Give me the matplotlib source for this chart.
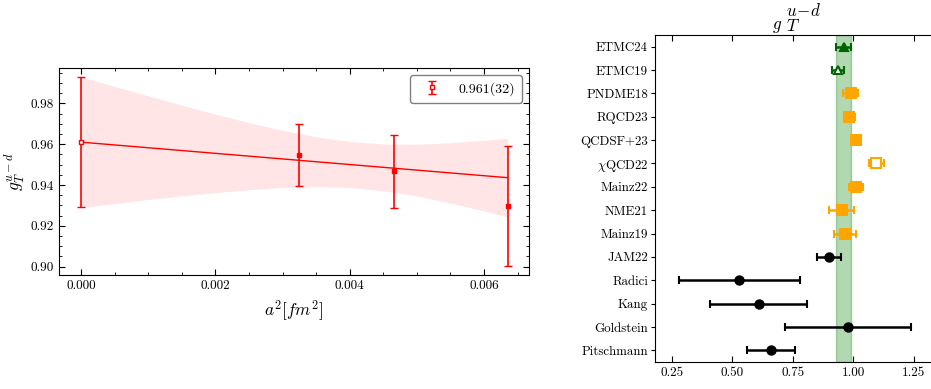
import matplotlib
matplotlib.use("Agg")
import matplotlib.pyplot as plt
from matplotlib.ticker import MultipleLocator, FormatStrFormatter

plt.rcParams['font.family'] = 'serif'
plt.rcParams['font.serif'] = ['cmr10']
plt.rcParams['mathtext.fontset'] = 'cm'
plt.rcParams['axes.formatter.use_mathtext'] = True

# extrapolacion al continuo
a2 = [0.00325, 0.00466, 0.00635]
gT = [0.9547, 0.9467, 0.9298]
gT_err = [0.0153, 0.0180, 0.0293]
gT_cont = 0.961
gT_cont_err = 0.032

# banda del ajuste
band_x = [0, 0.0005, 0.001, 0.0015, 0.002, 0.0025, 0.003, 0.0035,
          0.004, 0.0045, 0.005, 0.0055, 0.006, 0.00635]
band_lo = [0.929, 0.9309, 0.9329, 0.9347, 0.9363, 0.9377, 0.9388, 0.9392,
           0.9388, 0.9372, 0.9346, 0.9312, 0.9273, 0.9243]
band_hi = [0.993, 0.9883, 0.9837, 0.9791, 0.9747, 0.9706, 0.9668, 0.9636,
           0.9613, 0.9601, 0.9600, 0.9607, 0.9619, 0.9629]
fit_x = [0, 0.00635]
fit_y = [0.961, 0.9436]

# comparacion con otros resultados
names = ['ETMC24', 'ETMC19', 'PNDME18', 'RQCD23', 'QCDSF+23', r'$\chi$QCD22',
         'Mainz22', 'NME21', 'Mainz19', 'JAM22', 'Radici', 'Kang',
         'Goldstein', 'Pitschmann']
vals = [0.961, 0.936, 0.989, 0.984, 1.010, 1.096, 1.012, 0.952, 0.966,
        0.900, 0.530, 0.610, 0.980, 0.660]
errs = [0.032, 0.025, 0.032, 0.022, 0.015, 0.030, 0.028, 0.050, 0.045,
        0.050, 0.250, 0.200, 0.260, 0.100]
groups = ['etmc', 'etmc', 'lat', 'lat', 'lat', 'lat', 'lat', 'lat', 'lat',
          'pheno', 'pheno', 'pheno', 'pheno', 'pheno']
hollow = ['ETMC19', r'$\chi$QCD22']

fig = plt.figure(figsize=(9.31, 3.89), dpi=100)

ax1 = fig.add_axes([0.0634, 0.293, 0.5048, 0.532])
ax1.fill_between(band_x, band_lo, band_hi, color='red', alpha=0.1, lw=0)
ax1.plot(fit_x, fit_y, color='red', lw=1)
ax1.errorbar(a2, gT, yerr=gT_err, fmt='s', color='red', ms=3.5, capsize=3,
             elinewidth=1.2, capthick=1)
ax1.errorbar([0], [gT_cont], yerr=[gT_cont_err], fmt='s', color='red',
             mfc='white', ms=3.5, capsize=3, elinewidth=1.2, capthick=1,
             label='0.961(32)')
ax1.set_xlim(-0.00033, 0.00667)
ax1.set_ylim(0.8959, 0.9973)
ax1.xaxis.set_major_locator(MultipleLocator(0.002))
ax1.xaxis.set_minor_locator(MultipleLocator(0.0005))
ax1.yaxis.set_major_locator(MultipleLocator(0.02))
ax1.yaxis.set_minor_locator(MultipleLocator(0.005))
ax1.xaxis.set_major_formatter(FormatStrFormatter('%.3f'))
ax1.yaxis.set_major_formatter(FormatStrFormatter('%.2f'))
ax1.tick_params(which='both', direction='in', top=True, right=True,
                labelsize=9.5)
ax1.tick_params(which='major', length=4)
ax1.tick_params(which='minor', length=2)
ax1.set_xlabel(r'$a^2[fm^2]$', fontsize=12.5)
ax1.set_ylabel(r'$g_T^{u-d}$', fontsize=12.5, labelpad=3)
ax1.legend(loc='upper right', fontsize=10, handlelength=2.2,
           borderpad=0.5, edgecolor='gray', framealpha=1)

ax2 = fig.add_axes([0.7035, 0.0694, 0.3039, 0.8406])
ax2.axvspan(gT_cont - gT_cont_err, gT_cont + gT_cont_err, facecolor='green',
            alpha=0.3, edgecolor='green', lw=1)
for i in range(len(names)):
    if groups[i] == 'etmc':
        col, mk, ms = 'darkgreen', '^', 6
    elif groups[i] == 'lat':
        col, mk, ms = 'orange', 's', 6.5
    else:
        col, mk, ms = 'black', 'o', 6
    mfc = 'white' if names[i] in hollow else col
    ax2.errorbar(vals[i], i, xerr=errs[i], fmt=mk, color=col, mfc=mfc,
                 mec=col, mew=1.5, ms=ms, capsize=3, elinewidth=1.8,
                 capthick=1.5)
ax2.set_yticks(range(len(names)))
ax2.set_yticklabels(names)
ax2.set_ylim(13.5, -0.5)
ax2.set_xlim(0.181, 1.35)
ax2.xaxis.set_major_locator(MultipleLocator(0.25))
ax2.xaxis.set_major_formatter(FormatStrFormatter('%.2f'))
ax2.tick_params(axis='x', direction='in', top=True, labelsize=9.5, length=4)
ax2.tick_params(axis='y', direction='out', labelsize=9.3, length=3, pad=2)
ax2.set_title(r'$_g\,{}^{u\!-\!d}_{T}$', fontsize=17.5, pad=6)

plt.savefig('out.png', dpi=100)
